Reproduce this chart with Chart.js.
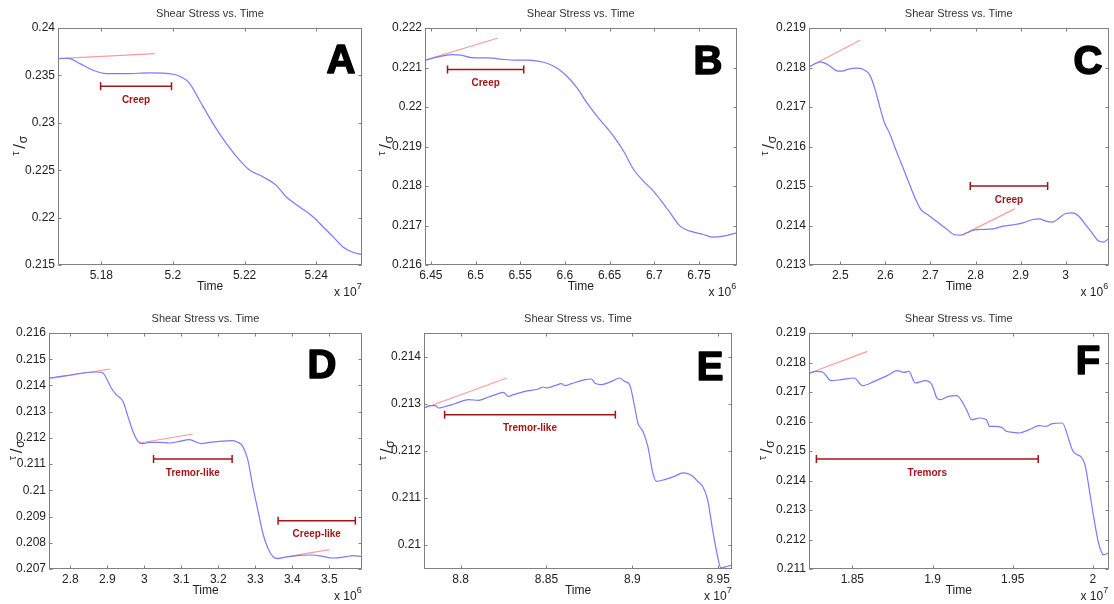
<!DOCTYPE html>
<html>
<head>
<meta charset="utf-8">
<script src="https://cdn.jsdelivr.net/npm/chart.js@4.4.1/dist/chart.umd.min.js"></script>
<style>
  html, body { margin: 0; padding: 0; background: #fff; }
  #fig { position: relative; width: 1114px; height: 604px; overflow: hidden; }
  #fig canvas { position: absolute; }
</style>
</head>
<body>
<div id="fig">
  <canvas id="panelA" width="372" height="300" style="left:0;top:0"></canvas>
  <canvas id="panelB" width="370" height="300" style="left:372px;top:0"></canvas>
  <canvas id="panelC" width="372" height="300" style="left:742px;top:0"></canvas>
  <canvas id="panelD" width="372" height="304" style="left:0;top:300px"></canvas>
  <canvas id="panelE" width="370" height="304" style="left:372px;top:300px"></canvas>
  <canvas id="panelF" width="372" height="304" style="left:742px;top:300px"></canvas>
</div>
<script>
// ---------------------------------------------------------------------
// Data (time in units of 10^exp, stress = tau/sigma)
// ---------------------------------------------------------------------

// Panel A (x 10^7)
const aTime = [5.1679, 5.1707, 5.1740, 5.1777, 5.1814, 5.1870, 5.1935, 5.2000, 5.2023, 5.2047, 5.2074, 5.2112, 5.2149, 5.2186, 5.2214, 5.2251, 5.2288, 5.2316, 5.2353, 5.2391, 5.2419, 5.2447, 5.2474, 5.2502, 5.2528];
const aStress = [0.23677, 0.23680, 0.23624, 0.23554, 0.23519, 0.23519, 0.23526, 0.23512, 0.23484, 0.23414, 0.23238, 0.22992, 0.22782, 0.22606, 0.22501, 0.22431, 0.22343, 0.22220, 0.22115, 0.22009, 0.21904, 0.21799, 0.21693, 0.21634, 0.21612];
const aTanTime = [5.1679, 5.1949];
const aTanStress = [0.23677, 0.23730];
const aSpanTime = [5.1798, 5.1996];
const aSpanStress = [0.23386, 0.23386];
const aXRange = [5.1679, 5.2528];
const aYRange = [0.215, 0.24];
const aXTicks = [5.18, 5.2, 5.22, 5.24];
const aYTicks = [0.215, 0.22, 0.225, 0.23, 0.235, 0.24];

// Panel B (x 10^6)
const bTime = [6.4435, 6.4583, 6.4732, 6.4843, 6.4954, 6.5139, 6.5325, 6.5436, 6.5584, 6.5695, 6.5807, 6.5918, 6.6029, 6.6140, 6.6251, 6.6363, 6.6474, 6.6548, 6.6659, 6.6770, 6.6882, 6.6993, 6.7067, 6.7178, 6.7289, 6.7401, 6.7549, 6.7660, 6.7771, 6.7883, 6.7920];
const bStress = [0.221185, 0.221269, 0.221328, 0.221311, 0.221252, 0.221244, 0.221202, 0.221185, 0.221185, 0.221160, 0.221101, 0.220975, 0.220765, 0.220471, 0.220092, 0.219756, 0.219462, 0.219252, 0.218874, 0.218412, 0.218118, 0.217866, 0.217656, 0.217319, 0.216983, 0.216857, 0.216773, 0.216706, 0.216731, 0.216790, 0.216815];
const bTanTime = [6.4435, 6.5251];
const bTanStress = [0.221185, 0.221748];
const bSpanTime = [6.4687, 6.5540];
const bSpanStress = [0.22095, 0.22095];
const bXRange = [6.4435, 6.792];
const bYRange = [0.216, 0.222];
const bXTicks = [6.45, 6.5, 6.55, 6.6, 6.65, 6.7, 6.75];
const bYTicks = [0.216, 0.217, 0.218, 0.219, 0.22, 0.221, 0.222];

// Panel C (x 10^6)
const cTime = [2.4307, 2.4416, 2.4562, 2.4745, 2.4927, 2.5036, 2.5182, 2.5365, 2.5511, 2.5657, 2.5766, 2.5876, 2.5985, 2.6095, 2.6204, 2.6350, 2.6496, 2.6642, 2.6788, 2.6934, 2.7080, 2.7226, 2.7372, 2.7518, 2.7664, 2.7810, 2.7956, 2.8102, 2.8394, 2.8613, 2.8832, 2.9051, 2.9270, 2.9416, 2.9562, 2.9708, 2.9854, 3.0000, 3.0146, 3.0292, 3.0438, 3.0584, 3.0730, 3.0839, 3.0949];
const cStress = [0.218017, 0.218084, 0.218143, 0.218059, 0.217916, 0.217908, 0.217958, 0.217983, 0.217950, 0.217807, 0.217471, 0.217008, 0.216588, 0.216336, 0.216000, 0.215580, 0.215160, 0.214740, 0.214403, 0.214278, 0.214151, 0.214025, 0.213899, 0.213773, 0.213756, 0.213815, 0.213883, 0.213899, 0.213916, 0.213983, 0.214017, 0.214067, 0.214151, 0.214168, 0.214109, 0.214084, 0.214193, 0.214303, 0.214319, 0.214235, 0.214025, 0.213815, 0.213605, 0.213580, 0.213664];
const cTan1Time = [2.4307, 2.5438];
const cTan1Stress = [0.218017, 0.218689];
const cTan2Time = [2.7701, 2.8869];
const cTan2Stress = [0.213756, 0.214420];
const cSpanTime = [2.7883, 2.9599];
const cSpanStress = [0.215, 0.215];
const cXRange = [2.4307, 3.0949];
const cYRange = [0.213, 0.219];
const cXTicks = [2.5, 2.6, 2.7, 2.8, 2.9, 3];
const cYTicks = [0.213, 0.214, 0.215, 0.216, 0.217, 0.218, 0.219];

// Panel D (x 10^6)
const dTime = [2.7424, 2.7892, 2.8342, 2.8702, 2.8882, 2.8972, 2.9107, 2.9242, 2.9422, 2.9557, 2.9692, 2.9827, 2.9962, 3.0142, 3.0412, 3.0682, 3.0952, 3.1222, 3.1357, 3.1537, 3.1762, 3.2032, 3.2392, 3.2527, 3.2662, 3.2797, 3.2932, 3.3068, 3.3203, 3.3338, 3.3473, 3.3608, 3.3833, 3.4193, 3.4553, 3.4823, 3.5093, 3.5453, 3.5633, 3.5885];
const dStress = [0.214284, 0.214373, 0.214475, 0.214513, 0.214475, 0.214284, 0.213903, 0.213648, 0.213394, 0.212822, 0.212250, 0.211869, 0.211780, 0.211831, 0.211831, 0.211805, 0.211869, 0.211932, 0.211869, 0.211780, 0.211831, 0.211869, 0.211894, 0.211831, 0.211678, 0.211170, 0.210153, 0.209263, 0.208373, 0.207801, 0.207483, 0.207394, 0.207458, 0.207521, 0.207534, 0.207483, 0.207420, 0.207470, 0.207508, 0.207483];
const dTan1Time = [2.7424, 2.9080];
const dTan1Stress = [0.214260, 0.214627];
const dTan2Time = [2.9872, 3.1312];
const dTan2Stress = [0.211805, 0.212148];
const dTan3Time = [3.3563, 3.5003];
const dTan3Stress = [0.207394, 0.207737];
const dSpan1Time = [3.0250, 3.2374];
const dSpan1Stress = [0.211195, 0.211195];
const dSpan2Time = [3.3617, 3.5705];
const dSpan2Stress = [0.208843, 0.208843];
const dXRange = [2.7424, 3.5885];
const dYRange = [0.207, 0.216];
const dXTicks = [2.8, 2.9, 3, 3.1, 3.2, 3.3, 3.4, 3.5];
const dYTicks = [0.207, 0.208, 0.209, 0.21, 0.211, 0.212, 0.213, 0.214, 0.215, 0.216];

// Panel E (x 10^7)
const eTime = [8.7789, 8.7824, 8.7853, 8.7872, 8.7901, 8.7950, 8.7988, 8.8046, 8.8104, 8.8162, 8.8220, 8.8249, 8.8278, 8.8307, 8.8375, 8.8452, 8.8481, 8.8501, 8.8549, 8.8588, 8.8607, 8.8646, 8.8723, 8.8762, 8.8781, 8.8820, 8.8878, 8.8926, 8.8955, 8.8984, 8.9013, 8.9032, 8.9061, 8.9090, 8.9119, 8.9139, 8.9187, 8.9245, 8.9293, 8.9322, 8.9351, 8.9380, 8.9409, 8.9438, 8.9467, 8.9496, 8.9515, 8.9554, 8.9593];
const eStress = [0.212913, 0.212963, 0.212963, 0.212913, 0.212934, 0.212984, 0.213034, 0.213091, 0.213076, 0.213147, 0.213218, 0.213247, 0.213162, 0.213197, 0.213268, 0.213318, 0.213361, 0.213339, 0.213389, 0.213432, 0.213389, 0.213432, 0.213517, 0.213531, 0.213446, 0.213410, 0.213481, 0.213552, 0.213481, 0.213410, 0.212948, 0.212593, 0.212416, 0.212096, 0.211528, 0.211350, 0.211385, 0.211456, 0.211528, 0.211513, 0.211456, 0.211350, 0.211243, 0.210959, 0.210320, 0.209751, 0.209503, 0.209538, 0.209574];
const eTanTime = [8.7789, 8.8269];
const eTanStress = [0.212913, 0.213552];
const eSpanTime = [8.7907, 8.8901];
const eSpanStress = [0.212771, 0.212771];
const eXRange = [8.7787, 8.958];
const eYRange = [0.20948, 0.214512];
const eXTicks = [8.8, 8.85, 8.9, 8.95];
const eYTicks = [0.21, 0.211, 0.212, 0.213, 0.214];

// Panel F (x 10^7)
const fTime = [1.8235, 1.8276, 1.8317, 1.8368, 1.8430, 1.8512, 1.8564, 1.8636, 1.8718, 1.8780, 1.8821, 1.8852, 1.8893, 1.8955, 1.8996, 1.9027, 1.9047, 1.9099, 1.9150, 1.9212, 1.9243, 1.9294, 1.9336, 1.9356, 1.9397, 1.9438, 1.9459, 1.9500, 1.9541, 1.9603, 1.9665, 1.9706, 1.9747, 1.9809, 1.9850, 1.9871, 1.9891, 1.9932, 1.9953, 1.9974, 2.0004, 2.0035, 2.0066, 2.0097];
const fStress = [0.217644, 0.217700, 0.217667, 0.217384, 0.217418, 0.217475, 0.217215, 0.217362, 0.217554, 0.217723, 0.217667, 0.217700, 0.217305, 0.217384, 0.217249, 0.216797, 0.216740, 0.216853, 0.216876, 0.216401, 0.216062, 0.216119, 0.216062, 0.215836, 0.215836, 0.215780, 0.215667, 0.215633, 0.215610, 0.215723, 0.215859, 0.215836, 0.215927, 0.215949, 0.215384, 0.215045, 0.214910, 0.214763, 0.214480, 0.213802, 0.212785, 0.211881, 0.211486, 0.211542];
const fTanTime = [1.8235, 1.8595];
const fTanStress = [0.217644, 0.218379];
const fSpanTime = [1.8276, 1.9659];
const fSpanStress = [0.214729, 0.214729];
const fXRange = [1.823, 2.0097];
const fYRange = [0.211, 0.219];
const fXTicks = [1.85, 1.9, 1.95, 2];
const fYTicks = [0.211, 0.212, 0.213, 0.214, 0.215, 0.216, 0.217, 0.218, 0.219];

// ---------------------------------------------------------------------
// Panel setup (layout only, values come from the arrays above)
// ---------------------------------------------------------------------
const panels = [
    { id: 'panelA', letter: 'A', exp: 7, time: aTime, stress: aStress,
      tangents: [[aTanTime, aTanStress]], spans: [[aSpanTime, aSpanStress, 'Creep']],
      xRange: aXRange, yRange: aYRange, xTicks: aXTicks, yTicks: aYTicks,
      area: { left: 58, right: 362, top: 28, bottom: 265 }, letterAt: [341, 60], yLabelX: 20 },
    { id: 'panelB', letter: 'B', exp: 6, time: bTime, stress: bStress,
      tangents: [[bTanTime, bTanStress]], spans: [[bSpanTime, bSpanStress, 'Creep']],
      xRange: bXRange, yRange: bYRange, xTicks: bXTicks, yTicks: bYTicks,
      area: { left: 53, right: 366, top: 28, bottom: 265 }, letterAt: [336, 61], yLabelX: 14 },
    { id: 'panelC', letter: 'C', exp: 6, time: cTime, stress: cStress,
      tangents: [[cTan1Time, cTan1Stress], [cTan2Time, cTan2Stress]], spans: [[cSpanTime, cSpanStress, 'Creep']],
      xRange: cXRange, yRange: cYRange, xTicks: cXTicks, yTicks: cYTicks,
      area: { left: 67, right: 370, top: 28, bottom: 265 }, letterAt: [346, 61], yLabelX: 27 },
    { id: 'panelD', letter: 'D', exp: 6, time: dTime, stress: dStress,
      tangents: [[dTan1Time, dTan1Stress], [dTan2Time, dTan2Stress], [dTan3Time, dTan3Stress]],
      spans: [[dSpan1Time, dSpan1Stress, 'Tremor-like'], [dSpan2Time, dSpan2Stress, 'Creep-like']],
      xRange: dXRange, yRange: dYRange, xTicks: dXTicks, yTicks: dYTicks,
      area: { left: 49, right: 362, top: 33, bottom: 269 }, letterAt: [322, 65], yLabelX: 17 },
    { id: 'panelE', letter: 'E', exp: 7, time: eTime, stress: eStress,
      tangents: [[eTanTime, eTanStress]], spans: [[eSpanTime, eSpanStress, 'Tremor-like']],
      xRange: eXRange, yRange: eYRange, xTicks: eXTicks, yTicks: eYTicks,
      area: { left: 52, right: 360, top: 33, bottom: 269 }, letterAt: [338, 67], yLabelX: 15 },
    { id: 'panelF', letter: 'F', exp: 7, time: fTime, stress: fStress,
      tangents: [[fTanTime, fTanStress]], spans: [[fSpanTime, fSpanStress, 'Tremors']],
      xRange: fXRange, yRange: fYRange, xTicks: fXTicks, yTicks: fYTicks,
      area: { left: 67, right: 370, top: 33, bottom: 269 }, letterAt: [346, 61], yLabelX: 25 }
];

const FONT = '"Liberation Sans", Arial, Helvetica, sans-serif';
const BLUE = '#7a7aff';
const PINK = '#ff9a9a';
const DARKRED = '#a31515';

const toPoints = (xs, ys) => xs.map((x, i) => ({ x: x, y: ys[i] }));
const fmt = v => String(+v.toFixed(4));

// draws the matlab style box, inward ticks and all the texts
const matlabFrame = {
    id: 'matlabFrame',
    afterDraw(chart, args, o) {
        const { ctx, chartArea: a, scales } = chart;
        const xs = scales.x, ys = scales.y;
        const L = Math.round(a.left) + 0.5, R = Math.round(a.right) - 0.5;
        const T = Math.round(a.top) + 0.5, B = Math.round(a.bottom) - 0.5;
        ctx.save();

        // box
        ctx.strokeStyle = '#808080';
        ctx.lineWidth = 1;
        ctx.strokeRect(L, T, R - L, B - T);

        // inward ticks
        ctx.beginPath();
        xs.ticks.forEach(t => {
            const px = Math.round(xs.getPixelForValue(t.value)) + 0.5;
            ctx.moveTo(px, B); ctx.lineTo(px, B - 3);
            ctx.moveTo(px, T); ctx.lineTo(px, T + 3);
        });
        ys.ticks.forEach(t => {
            const py = Math.round(ys.getPixelForValue(t.value)) + 0.5;
            ctx.moveTo(L, py); ctx.lineTo(L + 3, py);
            ctx.moveTo(R, py); ctx.lineTo(R - 3, py);
        });
        ctx.stroke();

        const midX = (a.left + a.right) / 2;
        const midY = (a.top + a.bottom) / 2;

        // title
        ctx.fillStyle = '#333';
        ctx.font = '11px ' + FONT;
        ctx.textAlign = 'center';
        ctx.textBaseline = 'middle';
        ctx.fillText('Shear Stress vs. Time', midX, a.top - 14);

        // x label and exponent
        ctx.fillStyle = '#222';
        ctx.font = '12px ' + FONT;
        ctx.fillText('Time', midX, a.bottom + 22);
        ctx.textAlign = 'right';
        const expW = ctx.measureText('0').width * 0.8;
        ctx.fillText('x 10', a.right - expW, a.bottom + 28);
        ctx.font = '9px ' + FONT;
        ctx.textAlign = 'left';
        ctx.fillText(String(o.exp), a.right - expW, a.bottom + 22);

        // y label tau/sigma, rotated
        ctx.save();
        ctx.translate(o.yLabelX, midY);
        ctx.rotate(-Math.PI / 2);
        ctx.textAlign = 'center';
        ctx.fillStyle = '#222';
        ctx.font = '11px ' + FONT;
        ctx.fillText('\u03c4', -7, -4);
        ctx.font = '17px ' + FONT;
        ctx.fillText('/', 0, 0);
        ctx.font = '12px ' + FONT;
        ctx.fillText('\u03c3', 7, 4);
        ctx.restore();

        // span labels, under each span marker
        ctx.font = 'bold 10px ' + FONT;
        ctx.fillStyle = DARKRED;
        ctx.textAlign = 'center';
        o.spans.forEach(s => {
            const cx = (xs.getPixelForValue(s[0][0]) + xs.getPixelForValue(s[0][1])) / 2;
            const cy = ys.getPixelForValue(s[1][0]) + 14;
            ctx.fillText(s[2], cx, cy);
        });

        // panel letter (heavy)
        ctx.fillStyle = '#000';
        ctx.strokeStyle = '#000';
        ctx.lineWidth = 1.6;
        ctx.lineJoin = 'round';
        ctx.font = 'bold 40px ' + FONT;
        ctx.textAlign = 'center';
        ctx.textBaseline = 'middle';
        ctx.fillText(o.letter, o.letterAt[0], o.letterAt[1] + 2);
        ctx.strokeText(o.letter, o.letterAt[0], o.letterAt[1] + 2);
        ctx.restore();
    }
};

panels.forEach(p => {
    const canvas = document.getElementById(p.id);
    const W = canvas.width, H = canvas.height;

    const datasets = [{
        data: toPoints(p.time, p.stress),
        borderColor: BLUE,
        borderWidth: 1.2,
        pointRadius: 0,
        showLine: true,
        cubicInterpolationMode: 'monotone'
    }];
    p.tangents.forEach(t => datasets.push({
        data: toPoints(t[0], t[1]),
        borderColor: PINK,
        borderWidth: 1.2,
        pointRadius: 0,
        showLine: true
    }));
    p.spans.forEach(s => datasets.push({
        data: toPoints(s[0], s[1]),
        borderColor: DARKRED,
        borderWidth: 1.5,
        showLine: true,
        pointStyle: 'line',
        rotation: 90,
        pointRadius: 4,
        pointBorderWidth: 1.5,
        pointBorderColor: DARKRED
    }));

    const tickFont = { family: FONT, size: 12 };

    new Chart(canvas, {
        type: 'scatter',
        data: { datasets: datasets },
        options: {
            responsive: false,
            animation: false,
            devicePixelRatio: 1,
            events: [],
            layout: { padding: { left: 0, top: p.area.top, right: W - p.area.right, bottom: 0 } },
            plugins: {
                legend: { display: false },
                tooltip: { enabled: false },
                title: { display: false },
                matlabFrame: {
                    exp: p.exp, letter: p.letter, letterAt: p.letterAt,
                    yLabelX: p.yLabelX, spans: p.spans
                }
            },
            scales: {
                x: {
                    type: 'linear',
                    min: p.xRange[0],
                    max: p.xRange[1],
                    grid: { display: false, drawTicks: false },
                    border: { display: false },
                    afterBuildTicks: s => { s.ticks = p.xTicks.map(v => ({ value: v })); },
                    afterFit: s => { s.height = H - p.area.bottom; },
                    ticks: {
                        font: tickFont, color: '#222', padding: 3,
                        maxRotation: 0, autoSkip: false,
                        callback: v => fmt(v)
                    }
                },
                y: {
                    type: 'linear',
                    min: p.yRange[0],
                    max: p.yRange[1],
                    grid: { display: false, drawTicks: false },
                    border: { display: false },
                    afterBuildTicks: s => { s.ticks = p.yTicks.map(v => ({ value: v })); },
                    afterFit: s => { s.width = p.area.left; },
                    ticks: {
                        font: tickFont, color: '#222', padding: 3,
                        autoSkip: false,
                        callback: v => fmt(v)
                    }
                }
            }
        },
        plugins: [matlabFrame]
    });
});
</script>
</body>
</html>
